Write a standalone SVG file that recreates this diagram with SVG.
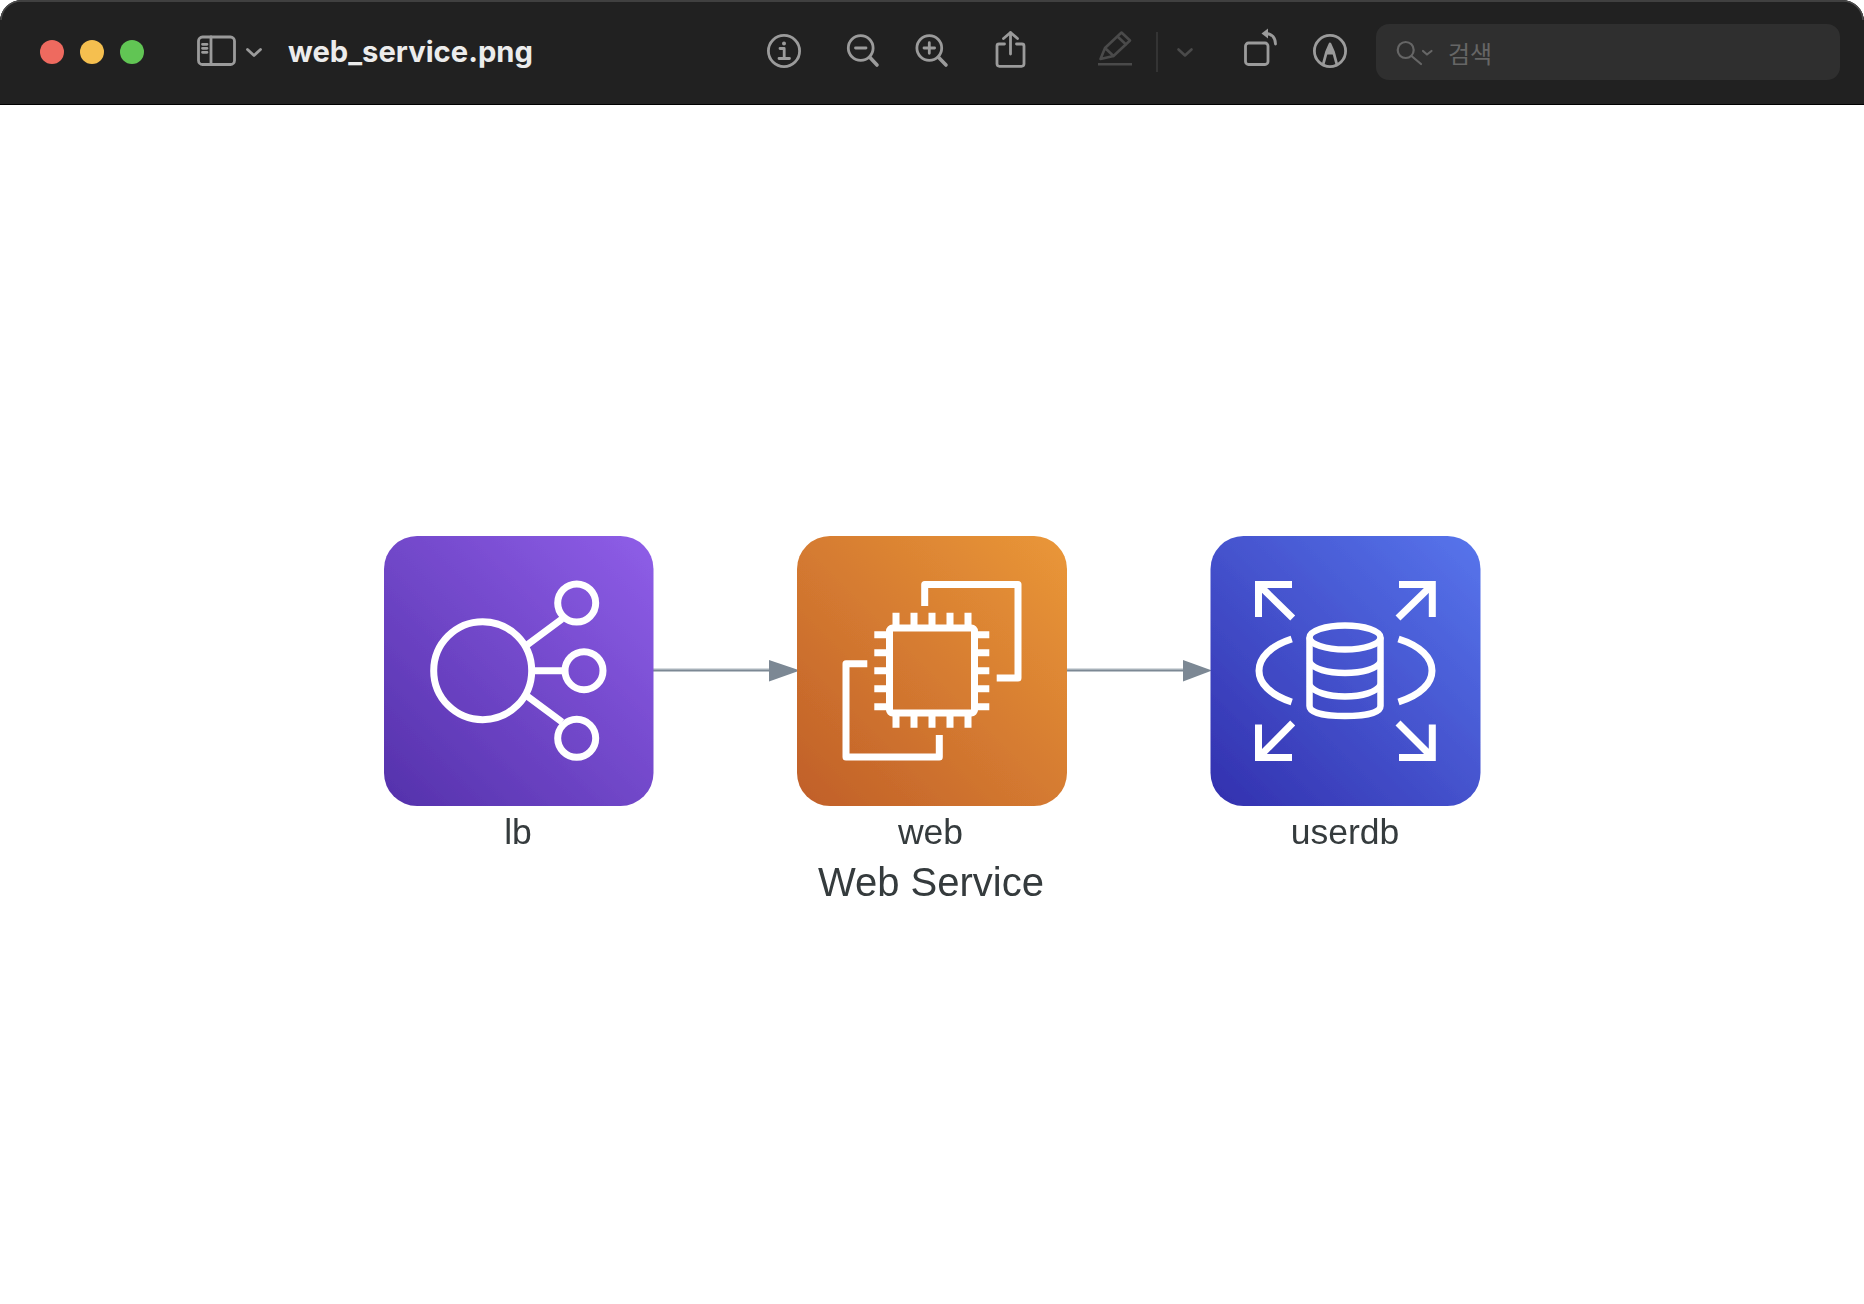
<svg xmlns="http://www.w3.org/2000/svg" width="1864" height="1304" viewBox="0 0 1864 1304">
<style>
.tb{fill:none;stroke:#9b9b9b;stroke-width:2.8;stroke-linecap:round;stroke-linejoin:round}
.tbh{fill:none;stroke:#9b9b9b;stroke-width:3.6;stroke-linecap:round}
.dim{fill:none;stroke:#4a4a4a;stroke-width:2.6;stroke-linecap:round;stroke-linejoin:round}
.srch{fill:none;stroke:#666;stroke-width:2.2;stroke-linecap:round;stroke-linejoin:round}
.ic{fill:none;stroke:#fff;stroke-width:7}
.ic2{fill:none;stroke:#fff;stroke-width:6.5}
.lbl{font-family:"Liberation Sans",Arial,sans-serif;font-size:35.5px;fill:#343a3c;text-anchor:middle}
.edge{stroke:#7b8894;stroke-width:2;fill:none}
.halo{stroke:#d5dade;stroke-width:2;fill:none}
.head{fill:#7b8894}
.soft{filter:url(#soft)}
</style>
<defs>
<filter id="soft" x="-5%" y="-5%" width="110%" height="110%"><feGaussianBlur stdDeviation="0.6"/></filter>
<linearGradient id="gp" x1="0" y1="1" x2="1" y2="0"><stop offset="0" stop-color="#5431ab"/><stop offset="1" stop-color="#8f5ee8"/></linearGradient>
<linearGradient id="go" x1="0" y1="1" x2="1" y2="0"><stop offset="0" stop-color="#c05f29"/><stop offset="1" stop-color="#ea9738"/></linearGradient>
<linearGradient id="gb" x1="0" y1="1" x2="1" y2="0"><stop offset="0" stop-color="#3230ae"/><stop offset="1" stop-color="#5775ec"/></linearGradient>
</defs>
<rect width="1864" height="1304" fill="#fff"/>
<g id="titlebar">
<path d="M0 105V22A22 22 0 0 1 22 0H1842A22 22 0 0 1 1864 22V105Z" fill="#000"/>
<path d="M0 104V22A22 22 0 0 1 22 0H1842A22 22 0 0 1 1864 22V104Z" fill="#212121"/>
<path d="M1 20A20 20 0 0 1 22 1H1842A20 20 0 0 1 1863 20" fill="none" stroke="#4b4b4b" stroke-width="1.5"/>
<circle cx="52" cy="52" r="12" fill="#ee6a5f"/>
<circle cx="92" cy="52" r="12" fill="#f5bf4f"/>
<circle cx="132" cy="52" r="12" fill="#61c554"/>
<rect class="tb" x="198.500" y="37" width="36" height="27.500" rx="4"/>
<path class="tb" d="M211 37V64.500M202.500 44.300H207M202.500 48.300H207M202.500 52.300H207" stroke-width="2"/>
<path class="tb" d="M247.500 49.500L254 55.500L260.500 49.500" stroke-width="3"/>
<text x="288" y="61.500" font-family="Inter,'Liberation Sans',sans-serif" font-weight="650" font-size="29.200" fill="#ececec">web_service.png</text>
<circle class="tb" cx="784" cy="51" r="15.600"/>
<circle cx="784" cy="43.500" r="2" fill="#9b9b9b"/>
<path class="tb" d="M780 48.500H784.200V58M779 58.500H789.500" stroke-linecap="butt"/>
<circle class="tb" cx="860.700" cy="48" r="12.400"/>
<path class="tbh" d="M870 57.500L877 65"/>
<path class="tb" d="M855.500 48H866"/>
<circle class="tb" cx="929.300" cy="48" r="12.400"/>
<path class="tbh" d="M938.700 57.500L946 65"/>
<path class="tb" d="M924 48H934.600M929.300 42.700V53.300"/>
<path class="tb" d="M1004.500 44H999A2 2 0 0 0 997 46V64A2.500 2.500 0 0 0 999.500 66.300H1021.500A2.500 2.500 0 0 0 1024 64V46A2 2 0 0 0 1022 44H1016.500"/>
<path class="tb" d="M1010.500 54V32.500M1003.500 38.500L1010.500 32.500L1017.500 38.500"/>
<path class="dim" d="M1100.500 59L1105 48L1121.500 32.500L1130 40.500L1113.500 56ZM1105 48L1113.500 56M1117.500 36.500L1126 44.500" stroke-width="2.200"/>
<path d="M1098 64.300H1132" stroke="#4a4a4a" stroke-width="2.400"/>
<path d="M1157 32V72" stroke="#3a3a3a" stroke-width="1.600"/>
<path class="dim" d="M1178.500 49.500L1185 55.500L1191.500 49.500" stroke-width="3"/>
<rect class="tb" x="1245.500" y="43" width="22.500" height="21.500" rx="3"/>
<path class="tb" d="M1275.500 44C1275.500 38 1272 33.500 1266 33.500"/>
<path d="M1261.500 33.500L1268 28.500V38.500Z" fill="#9b9b9b"/>
<circle class="tb" cx="1330" cy="51" r="15.600"/>
<path d="M1330 44L1334 54.500H1326Z" fill="#9b9b9b"/>
<path class="tb" d="M1323 65L1326.500 52L1330 44L1333.500 52L1337 65" stroke-linecap="butt"/>
<rect x="1376" y="24" width="464" height="56" rx="13" fill="#2f2f2f"/>
<circle class="srch" cx="1405.700" cy="50" r="8"/>
<path class="srch" d="M1411.500 56L1421 64M1423 51L1427 54.500L1431.500 51"/>
<text x="1448" y="62.500" font-family="'Noto Sans CJK KR','Noto Sans',sans-serif" font-size="24" fill="#666">검색</text>
</g>
<g id="connectors" class="soft">
<path class="halo" d="M653 669H770M1067 669H1185"/>
<path class="edge" d="M653 670.500H770M1067 670.500H1185"/>
<path class="head" d="M769 660L800 670.500L769 681.500Z"/>
<path class="head" d="M1183 660L1212 670.500L1183 681.500Z"/>
</g>
<g id="lb" class="soft">
<rect x="384" y="536" width="269.500" height="270" rx="33" fill="url(#gp)"/>
<circle class="ic" cx="482.700" cy="670.700" r="49"/>
<circle class="ic" cx="576.700" cy="603" r="19"/>
<circle class="ic" cx="584" cy="670.700" r="19"/>
<circle class="ic" cx="576.700" cy="738.300" r="19"/>
<path class="ic" d="M527 645L562 619M534 670.700H565M527 696L562 722"/>
<text class="lbl" x="518" y="844">lb</text>
</g>
<g id="web" class="soft">
<rect x="797" y="536" width="270" height="270" rx="33" fill="url(#go)"/>
<path class="ic" stroke-linejoin="round" d="M924.700 606V584.500H1018V678H996.700M867.300 663.700H846V757H939.300V735"/>
<rect class="ic" x="889.500" y="628" width="85" height="85" rx="3"/>
<path class="ic" d="M896 612.700V625M914 612.700V625M932 612.700V625M950 612.700V625M968 612.700V625M896 716V727.700M914 716V727.700M932 716V727.700M950 716V727.700M968 716V727.700M874.300 634.700H887M874.300 652.700H887M874.300 670.700H887M874.300 688.700H887M874.300 706.700H887M977 634.700H989.300M977 652.700H989.300M977 670.700H989.300M977 688.700H989.300M977 706.700H989.300"/>
<text class="lbl" x="930.500" y="844">web</text>
</g>
<g id="userdb" class="soft">
<rect x="1210.500" y="536" width="270" height="270" rx="33" fill="url(#gb)"/>
<path class="ic" d="M1292 584.500H1258.500V617M1259 585L1292.700 618M1399 584.500H1432.300V617M1432 585L1398 618M1292 757.500H1258.500V724.500M1259 757L1292.700 723M1399 757.500H1432.300V724.500M1432 757L1398 723"/>
<path class="ic" d="M1291.700 639C1270 646 1259 658 1259 670.700C1259 683 1270 695 1291.700 702M1398.500 639C1421 646 1432 658 1432 670.700C1432 683 1421 695 1398.500 702"/>
<ellipse class="ic2" cx="1345" cy="637.500" rx="35.500" ry="12"/>
<path class="ic2" d="M1309.500 637.500V706C1309.500 713 1325.500 716 1345 716C1364.500 716 1380.500 713 1380.500 706V637.500"/>
<path class="ic2" d="M1309.500 662C1313.500 669 1327.500 673 1345 673C1362.500 673 1376.500 669 1380.500 662M1309.500 685C1313.500 692 1327.500 696.500 1345 696.500C1362.500 696.500 1376.500 692 1380.500 685"/>
<text class="lbl" x="1345" y="844">userdb</text>
</g>
<text id="graph-title" class="soft" x="931" y="896" font-family="'Liberation Sans',Arial,sans-serif" font-size="40" fill="#343a3c" text-anchor="middle">Web Service</text>
</svg>
